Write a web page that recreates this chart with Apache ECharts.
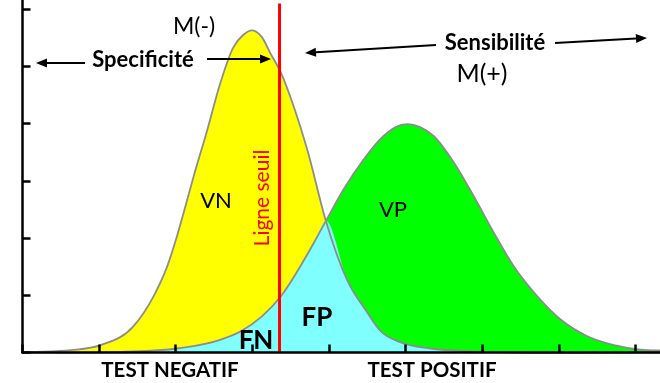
<!DOCTYPE html>
<html>
<head>
<meta charset="utf-8">
<script src="https://cdn.jsdelivr.net/npm/echarts@6/dist/echarts.min.js"></script>
<style>
html,body{margin:0;padding:0;background:#fff;width:660px;height:383px;overflow:hidden;position:relative}
#c{position:absolute;left:0;top:-48px;width:712px;height:431px}
</style>
</head>
<body>
<div id="c"></div>
<script>
// Negative-test population curve (yellow), x in tick units, y in tick units
const negX = [0.10,0.63,1.02,1.45,1.71,1.89,2.02,2.15,2.23,2.41,2.58,2.75,2.88,3.00,3.12,3.24,3.37,3.54,3.72,3.96,4.24,4.50,4.67,4.93,5.33,5.85,6.50,8.40];
const negY = [0.01,0.04,0.13,0.46,0.98,1.51,2.05,2.67,3.06,3.88,4.70,5.33,5.55,5.63,5.52,5.22,4.90,4.30,3.53,2.30,1.26,0.70,0.38,0.18,0.07,0.02,0.00,0.00];
// Positive-test population curve (green)
const posX = [0.10,1.28,2.02,2.58,2.85,3.37,3.80,3.96,4.19,4.45,4.71,4.87,5.02,5.19,5.37,5.63,5.89,6.15,6.41,6.72,7.02,7.38,7.72,8.07,8.40];
const posY = [0.00,0.01,0.07,0.22,0.37,0.98,1.91,2.30,2.85,3.37,3.78,3.94,3.99,3.94,3.78,3.32,2.73,2.10,1.51,0.98,0.58,0.28,0.13,0.05,0.03];
// Crossing point of the two curves
const crossX = 3.96;
// Threshold line
const thresholdX = 3.355;
const thresholdTop = 6.10;
// Axis tick settings
const xTicks = {min: 0, max: 9, interval: 1};
const yTicks = {min: 0, max: 7, interval: 1};

const negData = negX.map((x, i) => [x, negY[i]]);
const posData = posX.map((x, i) => [x, posY[i]]);
const overlapData = posData.filter(p => p[0] <= crossX).concat(negData.filter(p => p[0] > crossX));

const chart = echarts.init(document.getElementById('c'), null, {renderer: 'canvas'});
const FONT = 'Lato, "Open Sans", sans-serif';
const OY = 48; // container offset (page y -> chart y)

// Smooth curve (piecewise cubic Hermite in x) through pixel points
function curvePath(pts, closeBase) {
  const n = pts.length, h = [], d = [], m = [];
  for (let i = 0; i < n - 1; i++) { h[i] = pts[i + 1][0] - pts[i][0]; d[i] = (pts[i + 1][1] - pts[i][1]) / h[i]; }
  for (let i = 0; i < n; i++) {
    if (i === 0) m[i] = d[0];
    else if (i === n - 1) m[i] = d[n - 2];
    else m[i] = (d[i - 1] * h[i] + d[i] * h[i - 1]) / (h[i - 1] + h[i]);
  }
  let s = closeBase != null ? 'M' + pts[0][0] + ' ' + closeBase + 'L' + pts[0][0] + ' ' + pts[0][1]
                            : 'M' + pts[0][0] + ' ' + pts[0][1];
  for (let i = 0; i < n - 1; i++) {
    const t = h[i] / 3;
    s += 'C' + (pts[i][0] + t) + ' ' + (pts[i][1] + m[i] * t) + ' ' +
         (pts[i + 1][0] - t) + ' ' + (pts[i + 1][1] - m[i + 1] * t) + ' ' +
         pts[i + 1][0] + ' ' + pts[i + 1][1];
  }
  if (closeBase != null) s += 'L' + pts[n - 1][0] + ' ' + closeBase + 'Z';
  return s;
}
function curveSeries(data, fill, stroke, z) {
  return {
    type: 'custom', data: data, z: z, silent: true,
    renderItem: function (params, api) {
      if (params.dataIndex !== 0) return null;
      const pts = data.map(p => api.coord(p));
      const base = api.coord([0, 0])[1];
      return {type: 'path', shape: {pathData: curvePath(pts, fill ? base : null)},
        style: fill ? {fill: fill, stroke: null} : {fill: null, stroke: stroke, lineWidth: 1.8}};
    }
  };
}

function arrow(x1, y1, x2, y2) {
  y1 += OY; y2 += OY;
  const a = Math.atan2(y2 - y1, x2 - x1);
  const L = 11, W = 4.5;
  const bx = x2 - L * Math.cos(a), by = y2 - L * Math.sin(a);
  const px = -Math.sin(a) * W, py = Math.cos(a) * W;
  return [
    {type: 'line', silent: true, z: 20, shape: {x1: x1, y1: y1, x2: bx, y2: by}, style: {stroke: '#000', lineWidth: 2}},
    {type: 'polygon', silent: true, z: 20, shape: {points: [[x2, y2], [bx + px, by + py], [bx - px, by - py]]}, style: {fill: '#000'}}
  ];
}
function txt(t, x, y, size, weight, color, rot) {
  return {type: 'text', silent: true, z: 30, x: x, y: y + OY, rotation: rot || 0,
    style: {text: t, fill: color || '#000', font: (weight || 'normal') + ' ' + size + 'px ' + FONT, textAlign: 'center', textVerticalAlign: 'middle'}};
}

const option = {
  animation: false,
  grid: {left: 22.5, right: 0, top: 0, bottom: 30.5, containLabel: false},
  xAxis: {type: 'value', min: xTicks.min, max: xTicks.max, interval: xTicks.interval, z: 10,
    axisLine: {show: true, onZero: false, lineStyle: {color: '#000', width: 2.5}},
    axisTick: {show: true, inside: true, length: 8, lineStyle: {color: '#000', width: 2.5}},
    axisLabel: {show: false}, splitLine: {show: false}},
  yAxis: {type: 'value', min: yTicks.min, max: yTicks.max, interval: yTicks.interval, z: 10,
    axisLine: {show: true, onZero: false, lineStyle: {color: '#000', width: 2.5}},
    axisTick: {show: true, inside: true, length: 8, lineStyle: {color: '#000', width: 2.5}},
    axisLabel: {show: false}, splitLine: {show: false}},
  series: [
    curveSeries(negData, '#ffff00', null, 2),
    curveSeries(posData, '#00ff00', null, 3),
    curveSeries(overlapData, '#80ffff', null, 4),
    curveSeries(negData, null, '#8c8c8c', 5),
    curveSeries(posData, null, '#8c8c8c', 5),
    {type: 'line', data: [[thresholdX, 0], [thresholdX, thresholdTop]], symbol: 'none', z: 6, lineStyle: {color: '#ff0000', width: 3}}
  ],
  graphic: [].concat(
    arrow(85, 63, 36, 63),
    arrow(207, 59, 271, 59),
    arrow(436, 45, 305, 53),
    arrow(555, 43, 647, 38),
    [
      txt('M(-)', 194, 27, 23, 'normal'),
      txt('Specificité', 143, 60, 22, 'bold'),
      txt('Sensibilité', 495, 43, 22, 'bold'),
      txt('M(+)', 482, 74, 25, 'normal'),
      txt('VN', 216, 201, 22, 'normal'),
      txt('VP', 393, 210, 22, 'normal'),
      txt('FN', 256, 341, 26, 'bold'),
      txt('FP', 317, 318, 26, 'bold'),
      txt('TEST NEGATIF', 170, 370, 20.5, 'bold'),
      txt('TEST POSITIF', 432, 370, 20.5, 'bold'),
      txt('Ligne seuil', 262, 198, 21, 'normal', '#ff0000', Math.PI / 2)
    ]
  )
};
chart.setOption(option);
</script>
</body>
</html>
